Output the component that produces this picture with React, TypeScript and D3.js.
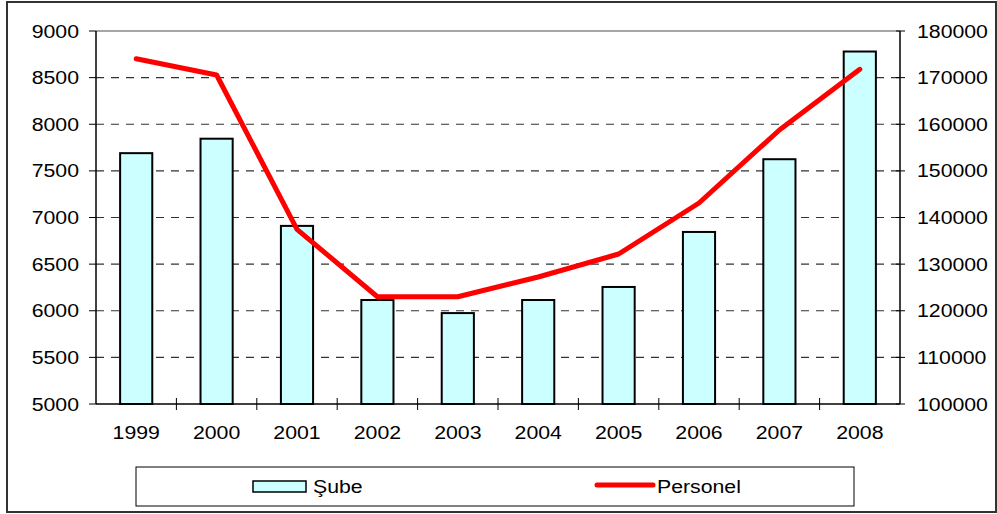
import React from "react";
import * as d3 from "d3";

const years = ["1999", "2000", "2001", "2002", "2003", "2004", "2005", "2006", "2007", "2008"];
const subeValues = [7690, 7845, 6910, 6115, 5975, 6115, 6255, 6845, 7625, 8780];
const personelValues = [174060, 170560, 137470, 123000, 123000, 127240, 132170, 143110, 158770, 171780];
const leftTicks = [5000, 5500, 6000, 6500, 7000, 7500, 8000, 8500, 9000];
const rightTicks = [100000, 110000, 120000, 130000, 140000, 150000, 160000, 170000, 180000];
const seriesNames = ["Şube", "Personel"];

const W = 997;
const H = 514;
const left = 96;
const right = 900;
const top = 31;
const bottom = 404;
const FONT = "'Liberation Sans', Arial, sans-serif";
const FS = 18.5;
const SX = 1.15;

export default function App() {
  const x = d3.scaleBand<string>().domain(years).range([left, right]).paddingInner(0).paddingOuter(0);
  const yL = d3.scaleLinear().domain([5000, 9000]).range([bottom, top]);
  const yR = d3.scaleLinear().domain([100000, 180000]).range([bottom, top]);
  const bw = x.bandwidth() * 0.4;
  const line = d3
    .line<number>()
    .x((_, i) => (x(years[i]) as number) + x.bandwidth() / 2)
    .y((d) => yR(d));

  const T = (props: { x: number; y: number; anchor: string; children: string }) => (
    <text
      transform={`translate(${props.x},${props.y}) scale(${SX},1)`}
      textAnchor={props.anchor as any}
      fontFamily={FONT}
      fontSize={FS}
      fill="#000"
    >
      {props.children}
    </text>
  );

  return (
    <svg width={W} height={H} style={{ position: "absolute", left: 0, top: 0 }}>
      <rect x={0} y={0} width={W} height={H} fill="#fff" />
      <rect x={7} y={2} width={989} height={510} fill="none" stroke="#333" strokeWidth={2} />
      {/* gridlines */}
      {leftTicks.slice(1, -1).map((t) => (
        <line key={"g" + t} x1={left} x2={right} y1={yL(t)} y2={yL(t)} stroke="#333" strokeWidth={1.2} strokeDasharray="8,7" />
      ))}
      <line x1={left} x2={right} y1={top} y2={top} stroke="#888" strokeWidth={1.5} />
      {/* bars */}
      {subeValues.map((v, i) => {
        const cx = (x(years[i]) as number) + x.bandwidth() / 2;
        return (
          <rect
            key={"b" + i}
            x={cx - bw / 2}
            y={yL(v)}
            width={bw}
            height={bottom - yL(v)}
            fill="#ccffff"
            stroke="#000"
            strokeWidth={2}
          />
        );
      })}
      {/* axes */}
      <line x1={left} x2={left} y1={top} y2={bottom} stroke="#000" strokeWidth={1.5} />
      <line x1={right} x2={right} y1={top} y2={bottom} stroke="#000" strokeWidth={1.5} />
      <line x1={left} x2={right} y1={bottom} y2={bottom} stroke="#000" strokeWidth={1.5} />
      {leftTicks.map((t) => (
        <g key={"l" + t}>
          <line x1={left - 7} x2={left} y1={yL(t)} y2={yL(t)} stroke="#000" strokeWidth={1} />
          <T x={79} y={yL(t) + 6.5} anchor="end">{String(t)}</T>
        </g>
      ))}
      {rightTicks.map((t) => (
        <g key={"r" + t}>
          <line x1={right - 4} x2={right + 5} y1={yR(t)} y2={yR(t)} stroke="#000" strokeWidth={1} />
          <T x={917} y={yR(t) + 6.5} anchor="start">{String(t)}</T>
        </g>
      ))}
      {years.map((yr, i) => {
        const bx = x(yr) as number;
        return (
          <g key={"x" + yr}>
            {i > 0 && <line x1={bx} x2={bx} y1={bottom - 6} y2={bottom + 6} stroke="#000" strokeWidth={1} />}
            <T x={bx + x.bandwidth() / 2} y={439} anchor="middle">{yr}</T>
          </g>
        );
      })}
      {/* line */}
      <path d={line(personelValues) as string} fill="none" stroke="#ff0000" strokeWidth={5} strokeLinejoin="round" strokeLinecap="round" />
      {/* legend */}
      <rect x={136} y={467} width={718} height={39} fill="#fff" stroke="#000" strokeWidth={1} />
      <rect x={253} y={481} width={53} height={11} fill="#ccffff" stroke="#000" strokeWidth={1.5} />
      <T x={313} y={493} anchor="start">{seriesNames[0]}</T>
      <line x1={597} x2={653} y1={485} y2={485} stroke="#ff0000" strokeWidth={5} strokeLinecap="round" />
      <T x={657} y={493} anchor="start">{seriesNames[1]}</T>
    </svg>
  );
}
